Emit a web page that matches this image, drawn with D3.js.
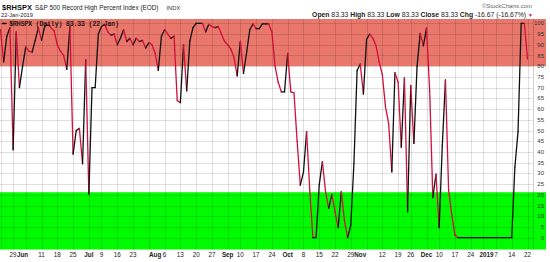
<!DOCTYPE html>
<html>
<head>
<meta charset="utf-8">
<script src="https://cdn.jsdelivr.net/npm/d3@7"></script>
<style>
  html, body { margin: 0; padding: 0; background: #fff; }
  svg { display: block; font-family: "Liberation Sans", Arial, sans-serif; }
</style>
</head>
<body>
<div id="wrapper"></div>
<script>
// trading calendar: 22 May 2018 .. 22 Jan 2019
const firstDay = "2018-05-22"
const lastDay = "2019-01-22"
const holidays = ["2018-05-28", "2018-07-04", "2018-09-03", "2018-11-22",
    "2018-12-05", "2018-12-25", "2019-01-01", "2019-01-21"]

// $RHSPX daily close, one value per trading day
const values = [
    97, 82, 94, 98, 41, 96, 70, 80, 89, 87,
    86.5, 92, 98, 92, 98.5, 99.5, 98, 96.5, 90, 87,
    85, 78.5, 98.5, 39, 50, 51, 34.5, 83, 20.4, 70,
    70, 95, 98.5, 99.5, 96, 94.5, 95, 90, 93, 97,
    91.5, 93, 90, 93, 91.5, 92, 88.5, 91, 90, 86,
    78, 94, 97, 95, 93, 94, 64, 63, 90, 68.5,
    91.8, 98, 100, 100, 100, 96, 99.5, 98.5, 98, 98.5,
    95, 91.5, 90, 88, 84, 75.5, 91.6, 76.6, 86.5, 97,
    99.7, 97.5, 97.5, 99.7, 99.7, 99.7, 96, 80, 72.5, 68,
    68, 86, 68, 67.5, 45, 24.5, 30.5, 49.5, 22, 0,
    0, 24.6, 35.5, 21.5, 13.7, 20.2, 12.1, 4.7, 21.5, 7.8,
    0, 5.9, 34.7, 78, 81, 67, 92.5, 95, 93, 89.5,
    82, 76, 61, 53.3, 30.7, 77, 72.5, 42.2, 74.5, 12.1,
    71, 44, 80, 95.3, 89.5, 97.7, 68.5, 18.7, 29.6, 4.7,
    43, 73.6, 22.2, 10.6, 1.2, 0, 0, 0, 0, 0,
    0, 0, 0, 0, 0, 0, 0, 0, 0, 0,
    0, 0, 0, 33, 49.5, 100, 100, 83.33
]

// x axis labels
const tickDates = ["2018-05-29", "2018-06-01", "2018-06-11", "2018-06-18", "2018-06-25",
    "2018-07-02", "2018-07-09", "2018-07-16", "2018-07-23", "2018-08-01", "2018-08-06",
    "2018-08-13", "2018-08-20", "2018-08-27", "2018-09-04", "2018-09-10", "2018-09-17",
    "2018-09-24", "2018-10-01", "2018-10-08", "2018-10-15", "2018-10-22", "2018-10-29",
    "2018-11-01", "2018-11-12", "2018-11-19", "2018-11-26", "2018-12-03", "2018-12-10",
    "2018-12-17", "2018-12-24", "2019-01-02", "2019-01-07", "2019-01-14", "2019-01-22"]
const tickLabels = ["29", "Jun", "11", "18", "25", "Jul", "9", "16", "23", "Aug", "6",
    "13", "20", "27", "Sep", "10", "17", "24", "Oct", "8", "15", "22", "29",
    "Nov", "12", "19", "26", "Dec", "10", "17", "24", "2019", "7", "14", "22"]
const monthLabels = ["Jun", "Jul", "Aug", "Sep", "Oct", "Nov", "Dec", "2019"]

const yTicks = d3.range(0, 101, 5)
const overboughtLevel = 80
const oversoldLevel = 21.2

const header = {
    symbol: "$RHSPX",
    name: "S&P 500 Record High Percent Index (EOD)",
    exchange: "INDX",
    date: "22-Jan-2019",
    legend: "$RHSPX (Daily) 83.33 (22 Jan)",
}
const quote = [["Open", "83.33"], ["High", "83.33"], ["Low", "83.33"], ["Close", "83.33"], ["Chg", "-16.67 (-16.67%)"]]

const width = 550
const height = 262

let dimensions = {
    plotLeft: 0,
    plotRight: 533,
    bandRight: 546,
    plotTop: 19,
    plotBottom: 249.5,
}

const parse = d3.utcParse("%Y-%m-%d")
const fmt = d3.utcFormat("%Y-%m-%d")
const holidaySet = new Set(holidays)
const days = d3.utcDay.range(parse(firstDay), d3.utcDay.offset(parse(lastDay), 1))
    .filter(d => d.getUTCDay() !== 0 && d.getUTCDay() !== 6 && !holidaySet.has(fmt(d)))
    .map(fmt)

const data = days.map((d, i) => ({ date: d, value: values[i] }))

const xScale = d3.scalePoint()
    .domain(days)
    .range([0.5, 527.5])

const yScale = d3.scaleLinear()
    .domain([0, 100])
    .range([237.7, 23.3])

const svg = d3.select("#wrapper")
    .append("svg")
    .attr("width", width)
    .attr("height", height)

// bands
svg.append("rect")
    .attr("x", dimensions.plotLeft)
    .attr("y", dimensions.plotTop)
    .attr("width", dimensions.bandRight - dimensions.plotLeft)
    .attr("height", yScale(overboughtLevel) - dimensions.plotTop)
    .attr("fill", "#e9776b")

svg.append("rect")
    .attr("x", dimensions.plotLeft)
    .attr("y", yScale(oversoldLevel))
    .attr("width", dimensions.bandRight - dimensions.plotLeft)
    .attr("height", dimensions.plotBottom - yScale(oversoldLevel))
    .attr("fill", "#00fa00")

// grid
const grid = svg.append("g")

grid.selectAll(".hgrid")
    .data(yTicks)
    .join("line")
    .attr("x1", dimensions.plotLeft)
    .attr("x2", dimensions.plotRight)
    .attr("y1", d => Math.round(yScale(d)) + 0.5)
    .attr("y2", d => Math.round(yScale(d)) + 0.5)
    .attr("stroke", "rgba(0,0,0,0.12)")
    .attr("stroke-width", 1)

// weekly vertical lines on the first trading day of each week
const weekStarts = days.filter((d, i) => i === 0 || parse(d).getUTCDay() <= parse(days[i - 1]).getUTCDay())

grid.selectAll(".vgrid")
    .data(weekStarts)
    .join("line")
    .attr("x1", d => Math.round(xScale(d)) + 0.5)
    .attr("x2", d => Math.round(xScale(d)) + 0.5)
    .attr("y1", dimensions.plotTop)
    .attr("y2", dimensions.plotBottom)
    .attr("stroke", "rgba(0,0,0,0.12)")
    .attr("stroke-width", 1)

grid.append("line")
    .attr("x1", dimensions.plotRight + 0.5)
    .attr("x2", dimensions.plotRight + 0.5)
    .attr("y1", dimensions.plotTop)
    .attr("y2", dimensions.plotBottom)
    .attr("stroke", "rgba(0,0,0,0.18)")

// price line, black when rising, red when falling
const segments = d3.pairs(data)

svg.append("g")
    .selectAll("line")
    .data(segments)
    .join("line")
    .attr("x1", d => xScale(d[0].date))
    .attr("y1", d => yScale(d[0].value))
    .attr("x2", d => xScale(d[1].date))
    .attr("y2", d => yScale(d[1].value))
    .attr("stroke", d => d[1].value < d[0].value ? "#d0103a" : "#111")
    .attr("stroke-width", 1.3)
    .attr("stroke-linecap", "round")

// y labels
svg.append("g")
    .selectAll("text")
    .data(yTicks)
    .join("text")
    .attr("x", 544)
    .attr("y", d => yScale(d))
    .attr("dy", "0.35em")
    .attr("text-anchor", "end")
    .attr("font-size", 6)
    .attr("fill", "#333")
    .text(d => d)

// x labels
svg.append("g")
    .selectAll("text")
    .data(tickDates)
    .join("text")
    .attr("x", d => xScale(d))
    .attr("y", 256.5)
    .attr("text-anchor", "middle")
    .attr("font-size", 6.3)
    .attr("font-weight", (d, i) => monthLabels.includes(tickLabels[i]) ? "bold" : "normal")
    .attr("fill", "#222")
    .text((d, i) => tickLabels[i])

// header
svg.append("text")
    .attr("x", 2).attr("y", 9.5)
    .attr("font-size", 7.5).attr("font-weight", "bold").attr("fill", "#111")
    .text(header.symbol)

svg.append("text")
    .attr("x", 35).attr("y", 9.5)
    .attr("font-size", 6.4).attr("fill", "#222")
    .text(header.name)

svg.append("text")
    .attr("x", 166.5).attr("y", 9.5)
    .attr("font-size", 5.8).attr("fill", "#333")
    .text(header.exchange)

svg.append("text")
    .attr("x", 1).attr("y", 16.8)
    .attr("font-size", 5.7).attr("fill", "#222")
    .text(header.date)

svg.append("text")
    .attr("x", 532).attr("y", 8.3)
    .attr("text-anchor", "end")
    .attr("font-size", 6).attr("fill", "#666")
    .text("\u00a9StockCharts.com")

const quoteText = svg.append("text")
    .attr("x", 526).attr("y", 16.8)
    .attr("text-anchor", "end")
    .attr("font-size", 6.8).attr("fill", "#222")

quote.forEach(([label, val], i) => {
    quoteText.append("tspan").attr("font-weight", "bold").text((i ? "  " : "") + label + " ")
    quoteText.append("tspan").text(val)
})

svg.append("text")
    .attr("x", 528).attr("y", 16.8)
    .attr("font-size", 5).attr("fill", "#d0103a")
    .text("\u25bc")

// legend
svg.append("line")
    .attr("x1", 2).attr("x2", 6.5)
    .attr("y1", 23.5).attr("y2", 23.5)
    .attr("stroke", "#000").attr("stroke-width", 1.4)

svg.append("text")
    .attr("x", 9.3).attr("y", 26.3)
    .attr("font-family", "'Liberation Mono', 'DejaVu Sans Mono', monospace")
    .attr("font-size", 6.3)
    .attr("fill", "#000")
    .attr("stroke", "#000")
    .attr("stroke-width", 0.15)
    .text(header.legend)
</script>
</body>
</html>
